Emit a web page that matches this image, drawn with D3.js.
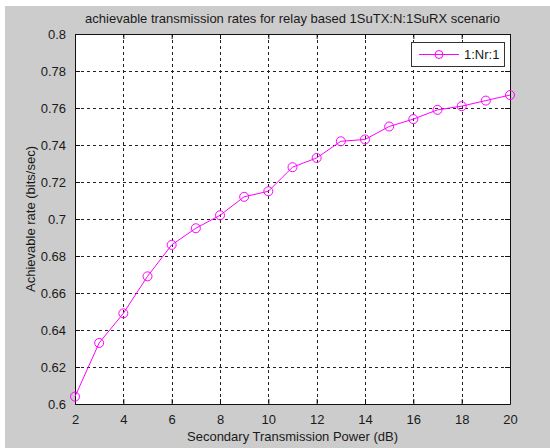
<!DOCTYPE html>
<html>
<head>
<meta charset="utf-8">
<script src="https://cdn.jsdelivr.net/npm/d3@7"></script>
<style>
  body { margin: 0; background: #fff; }
  svg text { font-family: "Liberation Sans", Arial, sans-serif; fill: #1a1a1a; }
</style>
</head>
<body>
<svg id="chart" width="550" height="448"></svg>
<script>
var powerDb = [2, 3, 4, 5, 6, 7, 8, 9, 10, 11, 12, 13, 14, 15, 16, 17, 18, 19, 20];
var rateNr1 = [0.604, 0.633, 0.649, 0.669, 0.686, 0.695, 0.702, 0.712, 0.715, 0.728,
               0.733, 0.742, 0.743, 0.750, 0.754, 0.759, 0.761, 0.764, 0.767];
var xTicks = [2, 4, 6, 8, 10, 12, 14, 16, 18, 20];
var yTicks = [0.6, 0.62, 0.64, 0.66, 0.68, 0.7, 0.72, 0.74, 0.76, 0.78, 0.8];
var seriesName = '1:Nr:1';

var svg = d3.select('#chart');
var plot = {left: 75, right: 510, top: 34, bottom: 404};

// figure background (matlab grey)
svg.append('rect').attr('x', 5).attr('y', 6).attr('width', 545).attr('height', 442).attr('fill', '#cccccc');
svg.append('rect').attr('x', plot.left).attr('y', plot.top)
	.attr('width', plot.right - plot.left).attr('height', plot.bottom - plot.top)
	.attr('fill', '#fff');

var x = d3.scaleLinear().domain([2, 20]).range([plot.left, plot.right]);
var y = d3.scaleLinear().domain([0.6, 0.8]).range([plot.bottom, plot.top]);

// grid
var grid = svg.append('g').attr('stroke', '#222').attr('stroke-dasharray', '3,3').attr('stroke-width', 1);
grid.selectAll('line.vx').data(xTicks.slice(1, -1)).enter().append('line')
	.attr('x1', function(d){ return Math.round(x(d)) + 0.5; })
	.attr('x2', function(d){ return Math.round(x(d)) + 0.5; })
	.attr('y1', plot.top).attr('y2', plot.bottom);
grid.selectAll('line.hy').data(yTicks.slice(1, -1)).enter().append('line')
	.attr('y1', function(d){ return Math.round(y(d)) + 0.5; })
	.attr('y2', function(d){ return Math.round(y(d)) + 0.5; })
	.attr('x1', plot.left).attr('x2', plot.right);

// axes, ticks pointing inward like matlab
var fmt = function(d){ return String(+d.toFixed(2)); };
var gx = svg.append('g').attr('transform', 'translate(0,' + plot.bottom + ')')
	.call(d3.axisBottom(x).tickValues(xTicks).tickSizeInner(-5).tickSizeOuter(0).tickPadding(11).tickFormat(fmt));
var gxTop = svg.append('g').attr('transform', 'translate(0,' + plot.top + ')')
	.call(d3.axisTop(x).tickValues(xTicks).tickSizeInner(-5).tickSizeOuter(0).tickFormat(''));
var gy = svg.append('g').attr('transform', 'translate(' + plot.left + ',0)')
	.call(d3.axisLeft(y).tickValues(yTicks).tickSizeInner(-5).tickSizeOuter(0).tickPadding(9).tickFormat(fmt));
var gyRight = svg.append('g').attr('transform', 'translate(' + plot.right + ',0)')
	.call(d3.axisRight(y).tickValues(yTicks).tickSizeInner(-5).tickSizeOuter(0).tickFormat(''));

[gx, gxTop, gy, gyRight].forEach(function(g){
	g.select('.domain').attr('stroke', '#111');
	g.selectAll('.tick line').attr('stroke', '#111');
	g.selectAll('text').style('font-size', '13px').attr('fill', '#1a1a1a');
});

// series
var line = d3.line().x(function(d, i){ return x(powerDb[i]); }).y(function(d){ return y(d); });
svg.append('path').datum(rateNr1)
	.attr('d', line).attr('fill', 'none').attr('stroke', '#ff00ff').attr('stroke-width', 1);
svg.selectAll('circle.pt').data(rateNr1).enter().append('circle')
	.attr('class', 'pt')
	.attr('cx', function(d, i){ return x(powerDb[i]); })
	.attr('cy', function(d){ return y(d); })
	.attr('r', 4.5).attr('fill', 'none').attr('stroke', '#ff00ff').attr('stroke-width', 1);

// legend
var lg = svg.append('g').attr('transform', 'translate(411,42)');
lg.append('rect').attr('x', 0.5).attr('y', 0.5).attr('width', 93).attr('height', 24)
	.attr('fill', '#fff').attr('stroke', '#333');
lg.append('line').attr('x1', 8).attr('x2', 48).attr('y1', 12.5).attr('y2', 12.5)
	.attr('stroke', '#ff00ff');
lg.append('circle').attr('cx', 28).attr('cy', 12.5).attr('r', 4)
	.attr('fill', 'none').attr('stroke', '#ff00ff');
lg.append('text').attr('x', 53).attr('y', 17).style('font-size', '13px').text(seriesName);

// titles
svg.append('text').attr('x', (plot.left + plot.right) / 2).attr('y', 23)
	.attr('text-anchor', 'middle').style('font-size', '13px')
	.text('achievable transmission rates for relay based 1SuTX:N:1SuRX scenario');
svg.append('text').attr('x', (plot.left + plot.right) / 2).attr('y', 441)
	.attr('text-anchor', 'middle').style('font-size', '13px')
	.text('Secondary Transmission Power (dB)');
svg.append('text').attr('transform', 'translate(35,' + (plot.top + plot.bottom) / 2 + ') rotate(-90)')
	.attr('text-anchor', 'middle').style('font-size', '13px')
	.text('Achievable rate (bits/sec)');
</script>
</body>
</html>
